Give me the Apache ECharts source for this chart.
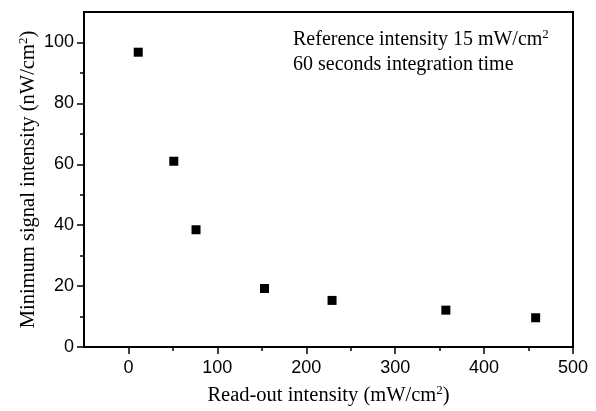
<!DOCTYPE html>
<html>
<head>
<meta charset="utf-8">
<script src="https://cdn.jsdelivr.net/npm/echarts@6/dist/echarts.min.js"></script>
<style>
html,body{margin:0;padding:0;background:#fff;}
#container1{width:596px;height:411px;}
</style>
</head>
<body>
<div id="container1"></div>
<script>
// read-out intensity (mW/cm2) and minimum signal intensity (nW/cm2)
var readOut = [11, 51, 76, 153, 229, 357, 458];
var minSignal = [96.8, 61, 38.5, 19.2, 15.3, 12.1, 9.6];
var xTicks = [0, 100, 200, 300, 400, 500];
var xMinor = [50, 150, 250, 350, 450];
var yTicks = [0, 20, 40, 60, 80, 100];
var yMinor = [10, 30, 50, 70, 90];

var serif = '"Liberation Serif", "DejaVu Serif", serif';
var sans = '"Liberation Sans", Arial, sans-serif';

window.onload = function () {
	draw();
};

function draw() {
	var dom = document.getElementById("container1");
	var myChart = echarts.init(dom);
	var pts = [];
	for (var i = 0; i < readOut.length; i++) {
		pts.push([readOut[i], minSignal[i]]);
	}

	var option = {
		animation: false,
		grid: {
			left: 84,
			right: 23,
			top: 12,
			bottom: 62,
			show: true,
			borderColor: '#000',
			borderWidth: 2
		},
		xAxis: [
			{
				type: 'value',
				min: -50,
				max: 500,
				name: '{a|Read-out intensity (mW/cm}{s|2}{a|)}',
				nameLocation: 'middle',
				nameGap: 37,
				nameTextStyle: {
					rich: {
						a: { fontFamily: serif, fontSize: 20.5, color: '#000' },
						s: { fontFamily: serif, fontSize: 13, color: '#000', padding: [0, 0, 10, 0] }
					}
				},
				axisLine: { onZero: false, lineStyle: { color: '#000', width: 2 } },
				axisTick: { customValues: xTicks, length: 7, lineStyle: { color: '#000', width: 1.5 } },
				axisLabel: { customValues: xTicks, color: '#000', fontFamily: sans, fontSize: 18, margin: 12 },
				splitLine: { show: false }
			},
			{
				type: 'value',
				min: -50,
				max: 500,
				position: 'bottom',
				axisLine: { show: true, onZero: false, lineStyle: { color: 'rgba(0,0,0,0)' } },
				axisTick: { show: true, customValues: xMinor, length: 4, lineStyle: { color: '#000', width: 1.5 } },
				axisLabel: { show: false },
				splitLine: { show: false }
			}
		],
		yAxis: [
			{
				type: 'value',
				min: 0,
				max: 110,
				name: '{a|Minimum signal intensity (nW/cm}{s|2}{a|)}',
				nameLocation: 'middle',
				nameGap: 44,
				nameMoveOverlap: false,
				nameTextStyle: {
					rich: {
						a: { fontFamily: serif, fontSize: 20.5, color: '#000' },
						s: { fontFamily: serif, fontSize: 13, color: '#000', padding: [0, 0, 10, 0] }
					}
				},
				axisLine: { onZero: false, lineStyle: { color: '#000', width: 2 } },
				axisTick: { customValues: yTicks, length: 7, lineStyle: { color: '#000', width: 1.5 } },
				axisLabel: { customValues: yTicks, color: '#000', fontFamily: sans, fontSize: 18, margin: 10 },
				splitLine: { show: false }
			},
			{
				type: 'value',
				min: 0,
				max: 110,
				position: 'left',
				axisLine: { show: true, onZero: false, lineStyle: { color: 'rgba(0,0,0,0)' } },
				axisTick: { show: true, customValues: yMinor, length: 4, lineStyle: { color: '#000', width: 1.5 } },
				axisLabel: { show: false },
				splitLine: { show: false }
			}
		],
		graphic: [
			{
				type: 'text',
				left: 293,
				top: 28,
				style: {
					text: '{a|Reference intensity 15 mW/cm}{s|2}\n{a|60 seconds integration time}',
					rich: {
						a: { fontFamily: serif, fontSize: 20, fill: '#000', lineHeight: 25 },
						s: { fontFamily: serif, fontSize: 13, fill: '#000', padding: [0, 0, 11, 0], lineHeight: 25 }
					}
				}
			}
		],
		series: [
			{
				type: 'scatter',
				data: pts,
				symbol: 'rect',
				symbolSize: 9,
				itemStyle: { color: '#000', opacity: 1 }
			}
		]
	};

	myChart.setOption(option, true);
}
</script>
</body>
</html>
